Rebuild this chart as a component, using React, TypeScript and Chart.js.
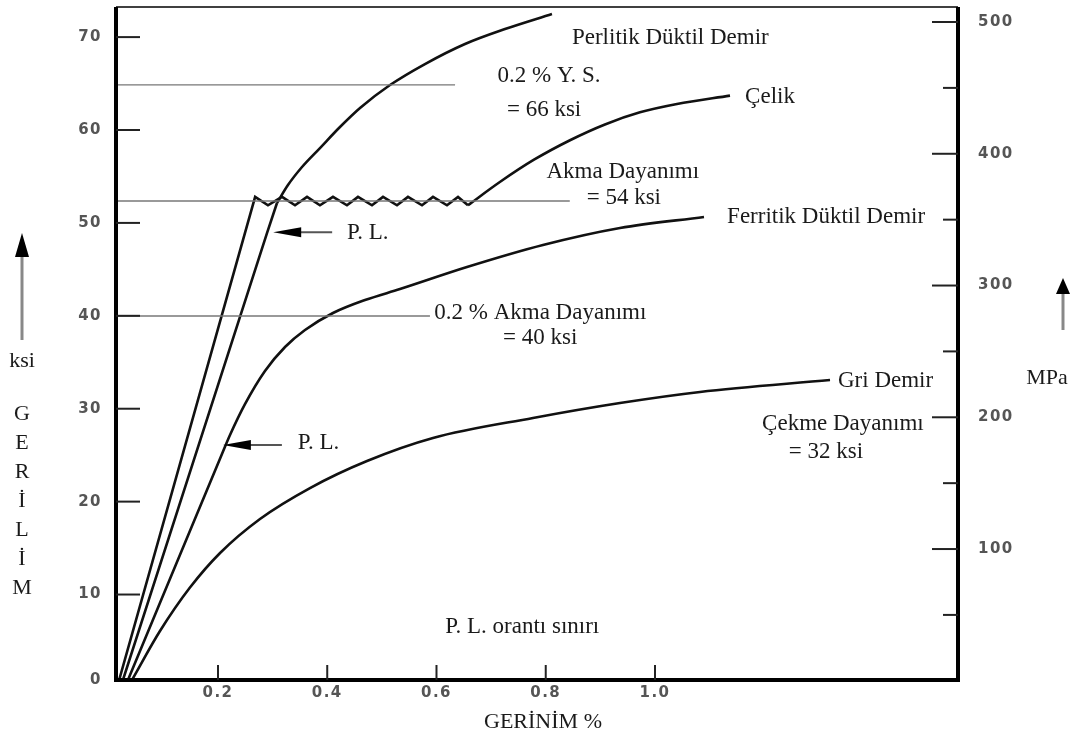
import React, { useEffect, useRef } from 'react';
import { Chart, registerables } from 'chart.js';

Chart.register(...registerables);

// ---------- axes ----------
const X_TICKS = [0.2, 0.4, 0.6, 0.8, 1.0];
const KSI_TICKS = [10, 20, 30, 40, 50, 60, 70];
const MPA_TICKS = [50, 100, 150, 200, 250, 300, 350, 400, 450, 500];
const X_MIN = 0.0133;
const X_MAX = 1.5547;
const KSI_MIN = 0.8;
const KSI_MAX = 73.24;
const MPA_MIN = 0.6;
const MPA_MAX = 511.4;

// ---------- series (strain %, stress ksi) ----------
// Çelik: elastic line + serrated yield plateau
const celikElasticX = [0.019, 0.268, 0.2915, 0.3172, 0.341, 0.363, 0.3867, 0.4105, 0.4361, 0.4563, 0.4819, 0.5021, 0.5277, 0.5478, 0.5735, 0.5936, 0.6192, 0.6394, 0.6576];
const celikElasticY = [0.8, 52.8, 51.9, 52.8, 51.9, 52.8, 51.9, 52.8, 51.9, 52.8, 51.9, 52.8, 51.9, 52.8, 51.9, 52.8, 51.9, 52.8, 51.9];
// Çelik: strain hardening
const celikCurveX = [0.6576, 0.716, 0.7785, 0.8444, 0.9084, 0.9725, 1.0402, 1.1373];
const celikCurveY = [51.9, 54.4, 56.8, 58.9, 60.6, 61.9, 62.8, 63.7];

// Perlitik Düktil Demir: elastic line, then curve
const perlitikElasticX = [0.026, 0.2897, 0.308];
const perlitikElasticY = [0.8, 48.9, 52.14];
const perlitikCurveX = [0.308, 0.3281, 0.3538, 0.3867, 0.4233, 0.46, 0.5149, 0.5789, 0.6522, 0.7254, 0.8114];
const perlitikCurveY = [52.14, 54.08, 56.02, 58.06, 60.32, 62.37, 64.84, 67.1, 69.26, 70.87, 72.49];

const ferritikX = [0.0352, 0.2073, 0.222, 0.2494, 0.286, 0.3227, 0.3593, 0.4105, 0.4691, 0.5332, 0.6558, 0.7949, 0.9359, 1.0897];
const ferritikY = [0.8, 25.12, 27.17, 30.49, 34.06, 36.64, 38.47, 40.3, 41.7, 42.88, 45.25, 47.62, 49.45, 50.64];

const griX = [0.0426, 0.0938, 0.1487, 0.2038, 0.2769, 0.3684, 0.4728, 0.5936, 0.7767, 0.9359, 1.0824, 1.3204];
const griY = [0.8, 6.07, 10.75, 14.47, 18.13, 21.46, 24.37, 26.85, 29.0, 30.61, 31.8, 33.09];

// reference (yield) lines
const refLineKsi = [64.85, 52.36, 39.98];
const refLineEndX = [0.634, 0.844, 0.588];

// annotations: text, x (strain %), y (ksi), alignment
const noteText = [
  'Perlitik Düktil Demir', '0.2 % Y. S.', '= 66 ksi', 'Çelik', 'Akma Dayanımı', '= 54 ksi',
  'Ferritik Düktil Demir', 'P. L.', '0.2 % Akma Dayanımı', '= 40 ksi', 'P. L.', 'Gri Demir',
  'Çekme Dayanımı', '= 32 ksi', 'P. L. orantı sınırı',
];
const noteX = [0.848, 0.806, 0.797, 1.165, 0.941, 0.943, 1.132, 0.436, 0.79, 0.79, 0.346, 1.335, 1.344, 1.313, 0.757];
const noteY = [69.9, 65.8, 62.2, 63.55, 55.5, 52.7, 50.6, 48.9, 40.3, 37.6, 26.3, 33.0, 28.35, 25.3, 6.5];
const noteAlign = ['left', 'center', 'center', 'left', 'center', 'center', 'left', 'left', 'center', 'center', 'left', 'left', 'center', 'center', 'center'];

// P.L. arrows (tip x, tail x, y)
const arrowTipX = [0.301, 0.209];
const arrowTailX = [0.409, 0.317];
const arrowY = [49.0, 26.1];

const VERTICAL_TITLE = ['G', 'E', 'R', 'İ', 'L', 'İ', 'M'];

const pts = (xs: number[], ys: number[]) => xs.map((x, i) => ({ x, y: ys[i] }));

const SERIF = "'Liberation Serif', 'Times New Roman', serif";

const decorPlugin = {
  id: 'decor',
  beforeDraw(chart: any) {
    chart.ctx.letterSpacing = '1.5px';
  },
  afterDraw(chart: any) {
    const { ctx, chartArea: a, scales } = chart;
    const xs = scales.x;
    const ys = scales.y;
    const ms = scales.y1;
    ctx.save();
    ctx.letterSpacing = '0px';
    const seg = (x1: number, y1: number, x2: number, y2: number) => {
      ctx.beginPath();
      ctx.moveTo(x1, y1);
      ctx.lineTo(x2, y2);
      ctx.stroke();
    };
    // frame
    ctx.strokeStyle = '#000';
    ctx.lineWidth = 1.5;
    seg(a.left, a.top, a.right, a.top);
    ctx.lineWidth = 4;
    ctx.beginPath();
    ctx.moveTo(a.left, a.top);
    ctx.lineTo(a.left, a.bottom);
    ctx.lineTo(a.right, a.bottom);
    ctx.lineTo(a.right, a.top);
    ctx.stroke();
    // inward tick marks
    ctx.strokeStyle = '#222';
    ctx.lineWidth = 2;
    KSI_TICKS.forEach((v) => {
      const p = ys.getPixelForValue(v);
      seg(a.left, p, a.left + 24, p);
    });
    MPA_TICKS.forEach((v) => {
      const p = ms.getPixelForValue(v);
      const len = v % 100 === 0 ? 26 : 15;
      seg(a.right - len, p, a.right, p);
    });
    X_TICKS.forEach((v) => {
      const p = xs.getPixelForValue(v);
      seg(p, a.bottom, p, a.bottom - 15);
    });
    // annotations
    ctx.fillStyle = '#1a1a1a';
    ctx.font = `23px ${SERIF}`;
    ctx.textBaseline = 'middle';
    noteText.forEach((t, i) => {
      ctx.textAlign = noteAlign[i];
      ctx.fillText(t, xs.getPixelForValue(noteX[i]), ys.getPixelForValue(noteY[i]));
    });
    // P.L. arrows
    arrowTipX.forEach((tx, i) => {
      const x1 = xs.getPixelForValue(tx);
      const x2 = xs.getPixelForValue(arrowTailX[i]);
      const y = ys.getPixelForValue(arrowY[i]);
      ctx.strokeStyle = '#555';
      ctx.lineWidth = 2;
      seg(x1 + 20, y, x2, y);
      ctx.fillStyle = '#000';
      ctx.beginPath();
      ctx.moveTo(x1, y);
      ctx.lineTo(x1 + 28, y - 5);
      ctx.lineTo(x1 + 28, y + 5);
      ctx.closePath();
      ctx.fill();
    });
    // axis titles
    ctx.fillStyle = '#1a1a1a';
    ctx.textAlign = 'center';
    ctx.font = `22px ${SERIF}`;
    ctx.fillText('GERİNİM %', 543, 722);
    ctx.fillText('ksi', 22, 361);
    VERTICAL_TITLE.forEach((c, i) => ctx.fillText(c, 22, 414 + i * 29));
    ctx.fillText('MPa', 1047, 378);
    // up arrows
    const upArrow = (x: number, tip: number, base: number, end: number) => {
      ctx.strokeStyle = '#888';
      ctx.lineWidth = 3;
      seg(x, base - 2, x, end);
      ctx.fillStyle = '#000';
      ctx.beginPath();
      ctx.moveTo(x, tip);
      ctx.lineTo(x - 7, base);
      ctx.lineTo(x + 7, base);
      ctx.closePath();
      ctx.fill();
    };
    upArrow(22, 233, 257, 340);
    upArrow(1063, 278, 294, 330);
    ctx.restore();
  },
};

const tickFont = { family: "'DejaVu Sans', sans-serif", weight: 'bold' as const, size: 15 };

export default function App() {
  const ref = useRef<HTMLCanvasElement | null>(null);
  useEffect(() => {
    if (!ref.current) return;
    const curve = (xs: number[], ys: number[], mode: 'straight' | 'smooth') => ({
      data: pts(xs, ys),
      borderColor: '#111',
      borderWidth: 2.6,
      pointRadius: 0,
      fill: false,
      tension: 0,
      cubicInterpolationMode: mode === 'smooth' ? 'monotone' : 'default',
    });
    const refLines = refLineKsi.map((k, i) => ({
      data: [{ x: X_MIN, y: k }, { x: refLineEndX[i], y: k }],
      borderColor: '#777',
      borderWidth: 1.3,
      pointRadius: 0,
      fill: false,
      tension: 0,
    }));
    const chart = new Chart(ref.current, {
      type: 'line',
      data: {
        datasets: [
          ...refLines,
          curve(celikElasticX, celikElasticY, 'straight'),
          curve(celikCurveX, celikCurveY, 'smooth'),
          curve(perlitikElasticX, perlitikElasticY, 'straight'),
          curve(perlitikCurveX, perlitikCurveY, 'smooth'),
          curve(ferritikX, ferritikY, 'smooth'),
          curve(griX, griY, 'smooth'),
        ] as any,
      },
      options: {
        animation: false,
        responsive: false,
        devicePixelRatio: 1,
        layout: { padding: { top: 7, left: 0, right: 0, bottom: 0 } },
        plugins: { legend: { display: false }, tooltip: { enabled: false } },
        scales: {
          x: {
            type: 'linear',
            position: 'bottom',
            min: X_MIN,
            max: X_MAX,
            afterBuildTicks: (s: any) => {
              s.ticks = X_TICKS.map((v) => ({ value: v }));
            },
            afterFit: (s: any) => {
              s.height = 60;
              s.paddingLeft = 0;
              s.paddingRight = 0;
            },
            ticks: {
              callback: (v: any) => Number(v).toFixed(1),
              font: tickFont,
              color: '#555',
              padding: 4,
              maxRotation: 0,
              autoSkip: false,
            },
            grid: { display: false, drawTicks: false },
            border: { display: false },
          },
          y: {
            type: 'linear',
            position: 'left',
            min: KSI_MIN,
            max: KSI_MAX,
            afterBuildTicks: (s: any) => {
              s.ticks = [{ value: KSI_MIN }, ...KSI_TICKS.map((v) => ({ value: v }))];
            },
            afterFit: (s: any) => {
              s.width = 116;
              s.paddingTop = 0;
              s.paddingBottom = 0;
            },
            ticks: {
              callback: (v: any) => (Number(v) < 1 ? '0' : String(v)),
              font: tickFont,
              color: '#555',
              padding: 14,
              autoSkip: false,
            },
            grid: { display: false, drawTicks: false },
            border: { display: false },
          },
          y1: {
            type: 'linear',
            position: 'right',
            min: MPA_MIN,
            max: MPA_MAX,
            afterBuildTicks: (s: any) => {
              s.ticks = MPA_TICKS.map((v) => ({ value: v }));
            },
            afterFit: (s: any) => {
              s.width = 121;
              s.paddingTop = 0;
              s.paddingBottom = 0;
            },
            ticks: {
              callback: (v: any) => (Number(v) % 100 === 0 ? String(v) : ''),
              font: tickFont,
              color: '#555',
              padding: 20,
              autoSkip: false,
            },
            grid: { display: false, drawTicks: false },
            border: { display: false },
          },
        },
      },
      plugins: [decorPlugin],
    } as any);
    return () => chart.destroy();
  }, []);
  return (
    <div style={{ position: 'fixed', left: 0, top: 0, width: 1079, height: 740, background: '#fff' }}>
      <canvas ref={ref} width={1079} height={740} style={{ display: 'block' }} />
    </div>
  );
}
